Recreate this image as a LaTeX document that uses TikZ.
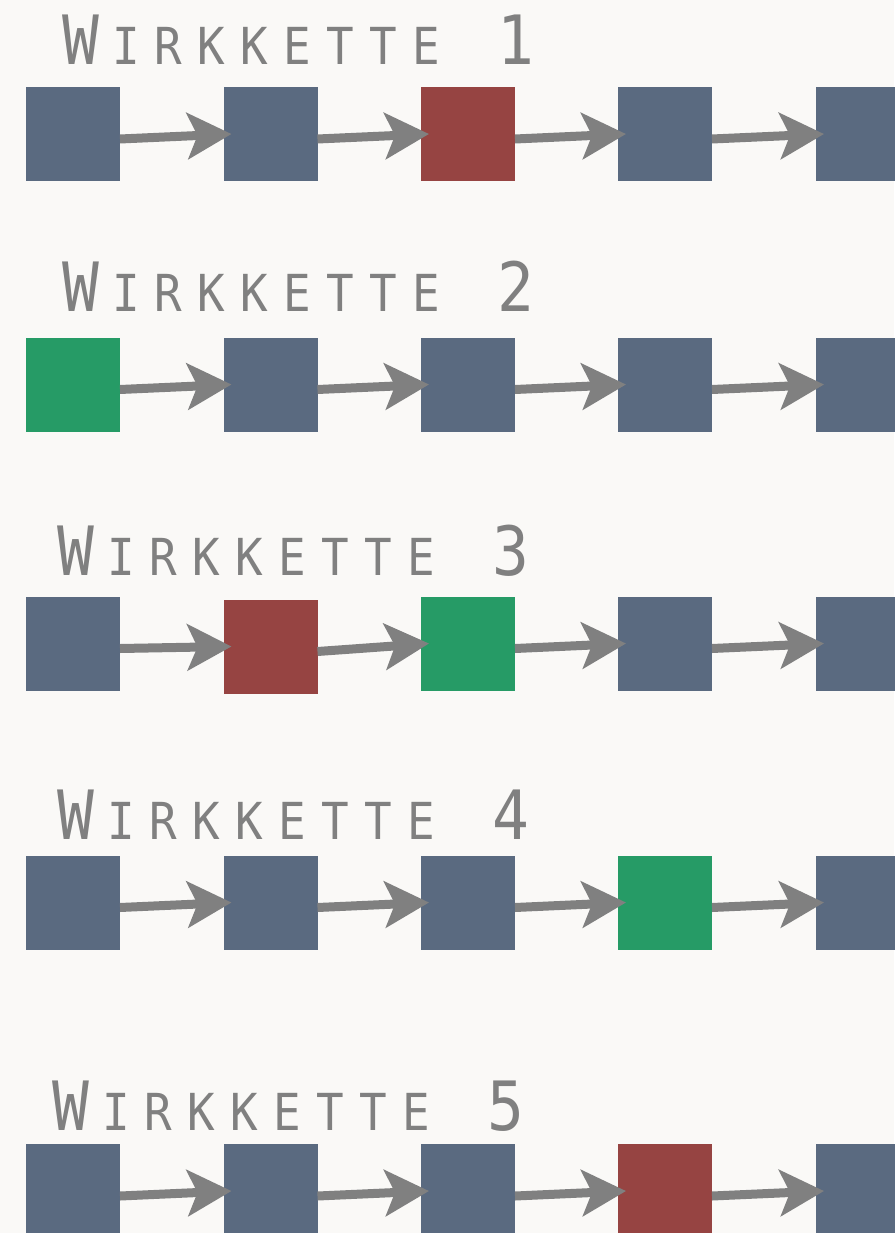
\documentclass[tikz,border=0pt]{standalone}
\usepackage{fontspec}
\usetikzlibrary{arrows.meta}
\newfontfamily\titlefont[FakeStretch=0.9,LetterSpace=30]{DejaVu Sans Mono}
\definecolor{bg}{HTML}{FAF9F7}
\definecolor{boxblue}{HTML}{5A6A80}
\definecolor{boxred}{HTML}{964442}
\definecolor{boxgreen}{HTML}{269B66}
\definecolor{txtgray}{HTML}{808080}
\newcommand{\wk}[1]{{\titlefont\fontsize{68}{68}\selectfont W\kern13pt\fontsize{51}{51}\selectfont IRKKETTE\fontsize{68}{68}\selectfont\ #1}}
\begin{document}
\begin{tikzpicture}[x=1pt,y=-1pt,
  cell/.style={minimum width=94pt,minimum height=94pt,inner sep=0pt,outer sep=0pt},
  bl/.style={cell,fill=boxblue},
  rd/.style={cell,fill=boxred},
  gn/.style={cell,fill=boxgreen},
  title/.style={anchor=base west,inner sep=0pt,text=txtgray},
  link/.style={draw=txtgray,line width=9pt,-{Stealth[length=44pt,width=46pt,inset=10pt]}}]
\fill[bg] (0,0) rectangle (894,1233);
\useasboundingbox (0,0) rectangle (894,1233);
% titles
\node[title] (t1) at (62,65) {\wk{1}};
\node[title] (t2) at (62,311) {\wk{2}};
\node[title] (t3) at (57,575) {\wk{3}};
\node[title] (t4) at (57,839) {\wk{4}};
\node[title] (t5) at (52,1130) {\wk{5}};
% row 1
\node[bl] (a1) at (73,134) {};
\node[bl] (a2) at (270.5,134) {};
\node[rd] (a3) at (468,134) {};
\node[bl] (a4) at (665,134) {};
\node[bl] (a5) at (863,134) {};
% row 2
\node[gn] (b1) at (73,384.5) {};
\node[bl] (b2) at (270.5,384.5) {};
\node[bl] (b3) at (468,384.5) {};
\node[bl] (b4) at (665,384.5) {};
\node[bl] (b5) at (863,384.5) {};
% row 3
\node[bl] (c1) at (73,643.5) {};
\node[rd] (c2) at (270.5,646.5) {};
\node[gn] (c3) at (468,643.5) {};
\node[bl] (c4) at (665,643.5) {};
\node[bl] (c5) at (863,643.5) {};
% row 4
\node[bl] (d1) at (73,902.5) {};
\node[bl] (d2) at (270.5,902.5) {};
\node[bl] (d3) at (468,902.5) {};
\node[gn] (d4) at (665,902.5) {};
\node[bl] (d5) at (863,902.5) {};
% row 5
\node[bl] (e1) at (73,1191) {};
\node[bl] (e2) at (270.5,1191) {};
\node[bl] (e3) at (468,1191) {};
\node[rd] (e4) at (665,1191) {};
\node[bl] (e5) at (863,1191) {};
% arrows
\foreach \r in {a,b,c,d,e}{
  \draw[link] ([yshift=-5pt]\r1.east) -- ([xshift=8pt]\r2.west);
  \draw[link] ([yshift=-5pt]\r2.east) -- ([xshift=8pt]\r3.west);
  \draw[link] ([yshift=-5pt]\r3.east) -- ([xshift=8pt]\r4.west);
  \draw[link] ([yshift=-5pt]\r4.east) -- ([xshift=8pt]\r5.west);
}
\end{tikzpicture}
\end{document}
